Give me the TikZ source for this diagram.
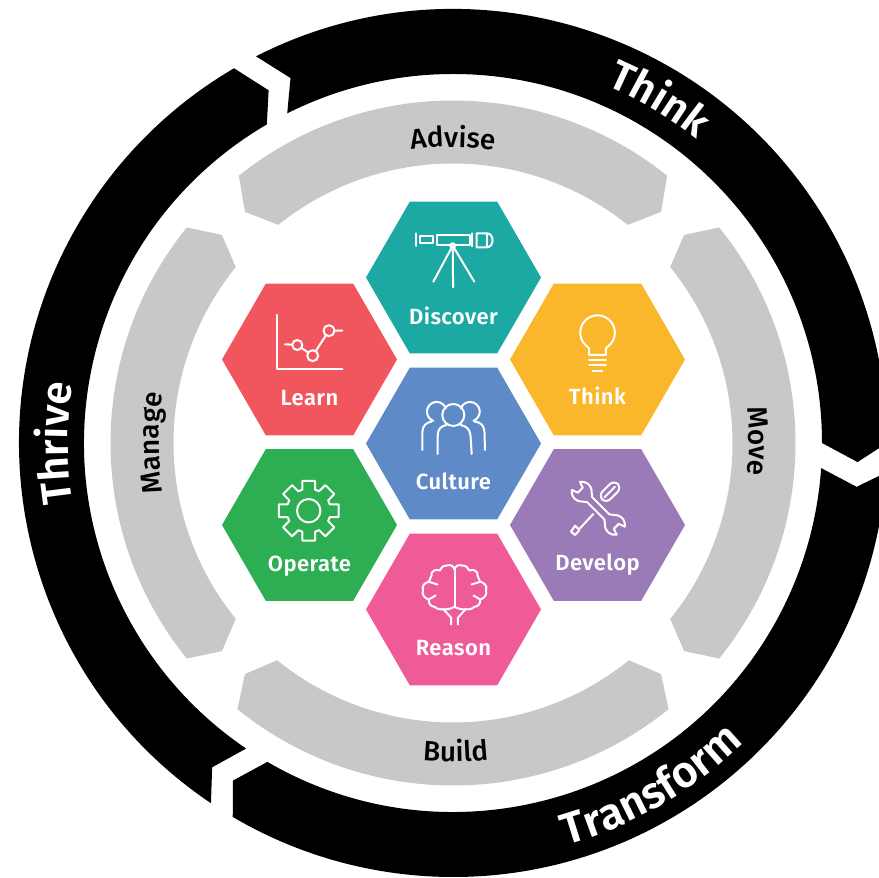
\documentclass[tikz,border=0pt]{standalone}
\usepackage{fontspec}
\setmainfont{Fira Sans}
\newfontfamily\medfont{Fira Sans Medium}
\newfontfamily\semifont{Fira Sans SemiBold}
\newfontfamily\medspaced[LetterSpace=2]{Fira Sans SemiBold}
\usetikzlibrary{shapes.geometric,decorations.text}
\definecolor{cteal}{HTML}{1DA9A3}
\definecolor{cred}{HTML}{F1565F}
\definecolor{cyel}{HTML}{FBB72B}
\definecolor{cblue}{HTML}{5E8BC8}
\definecolor{cpurp}{HTML}{9A7BB8}
\definecolor{cgreen}{HTML}{2DAE53}
\definecolor{cpink}{HTML}{EF5B97}
\definecolor{cgray}{HTML}{C8C8C6}
\newcommand{\ringfont}{\fontsize{31.5}{32}\selectfont\semifont}
\newcommand{\ringfontb}{\fontsize{33}{33}\selectfont\semifont}
\newcommand{\grayfont}{\fontsize{21}{21}\selectfont\medfont}
\tikzset{
  hexa/.style={regular polygon,regular polygon sides=6,shape border rotate=0,minimum size=131.25pt,inner sep=0pt,outer sep=0pt,draw=none},
  hexlabel/.style={anchor=base,text=white,font=\fontsize{16.5}{16.5}\selectfont\medspaced,inner sep=0pt},
  icon/.style={draw=white,line width=1.5pt,line cap=round,line join=round},
  ringpiece/.style={fill=black},
  graypiece/.style={fill=cgray},
  ringtext/.style={decorate,decoration={text along path,text align=center,text={|\ringfont\color{white}|#1}}},
  ringtextb/.style={decorate,decoration={text along path,text align=center,text={|\ringfontb\color{white}|#1}}},
  graytext/.style={decorate,decoration={text along path,text align=center,text={|\grayfont\color{black}|#1}}}
}
\begin{document}
\begin{tikzpicture}[x=0.75pt,y=0.75pt]
\useasboundingbox (0,0) rectangle (879,878);
\clip (0,0) rectangle (879,878);
\begin{scope}[shift={(453,435)}]
  % black ring
  \fill[ringpiece] (117:434) arc[start angle=117,end angle=0,radius=434] -- (-2.7:405) -- (0:369)
     arc[start angle=0,end angle=116.7,radius=369] -- (114:399.5) -- cycle;
  \fill[ringpiece] (-3.9:434) arc[start angle=-3.9,end angle=-120.5,radius=434] -- (236.9:403) -- (-120.2:369)
     arc[start angle=-120.2,end angle=-3.9,radius=369] -- (-6.2:406) -- cycle;
  \fill[ringpiece] (236.1:434) arc[start angle=236.1,end angle=120.3,radius=434] -- (117.6:398) -- (120.3:369)
     arc[start angle=120.3,end angle=235.9,radius=369] -- (233.4:404) -- cycle;
  % gray ring
  \fill[graypiece] (128.7:342.5) arc[start angle=128.7,end angle=51.3,radius=342.5] -- (48:311) -- (51.3:279.5)
     arc[start angle=51.3,end angle=128.7,radius=279.5] -- (132:311) -- cycle;
  \fill[graypiece] (39:342.5) arc[start angle=39,end angle=-39,radius=342.5] -- (-42:311) -- (-39:279.5)
     arc[start angle=-39,end angle=39,radius=279.5] -- (42:311) -- cycle;
  \fill[graypiece] (219:342.5) arc[start angle=219,end angle=141,radius=342.5] -- (138:311) -- (141:279.5)
     arc[start angle=141,end angle=219,radius=279.5] -- (222:311) -- cycle;
  \fill[graypiece] (309:342.5) arc[start angle=309,end angle=231,radius=342.5] -- (228:311) -- (231:279.5)
     arc[start angle=231,end angle=309,radius=279.5] -- (312:311) -- cycle;
  % ring texts
  \path[ringtext=Think] (84:389) arc[start angle=84,end angle=34,radius=389];
  \path[ringtext=Thrive] (200:385) arc[start angle=200,end angle=160,radius=385];
  \path[ringtextb=Transform] (-90.4:418) arc[start angle=-90.4,end angle=-29.6,radius=418];
  \path[graytext=Advise] (110:296) arc[start angle=110,end angle=70,radius=296];
  \path[graytext=Move] (20.3:296) arc[start angle=20.3,end angle=-19.7,radius=296];
  \path[graytext=Manage] (200:294) arc[start angle=200,end angle=160,radius=294];
  \path[graytext=Build] (250.5:319) arc[start angle=250.5,end angle=290.5,radius=319];
\end{scope}
% hexagons
\node[hexa,fill=cteal]  (discover) at (453.5,600.5) {};
\node[hexa,fill=cred]   (learn)    at (309.5,518.5) {};
\node[hexa,fill=cyel]   (think)    at (597.5,518.5) {};
\node[hexa,fill=cblue]  (culture)  at (453.5,434.5) {};
\node[hexa,fill=cgreen] (operate)  at (309.5,353) {};
\node[hexa,fill=cpurp]  (develop)  at (597.5,353) {};
\node[hexa,fill=cpink]  (reason)   at (453.5,268.5) {};
% Discover
\begin{scope}[shift={(453.5,600.5)},yscale=-1]
  \node[hexlabel] (discoverlabel) at (0,47) {Discover};
  \draw[icon] (-37.8,-44.2) -- (-37.8,-31.5);
  \draw[icon] (-33.5,-41.5) rectangle (-20.2,-34.2);
  \draw[icon] (-16.2,-42.5) rectangle (16.5,-32.5);
  \draw[icon] (18.8,-44) -- (18.8,-31);
  \draw[icon] (23.2,-44.2) -- (33.2,-44.2) .. controls (41,-44.2) and (41,-30.2) .. (33.2,-30.2) -- (23.2,-30.2) -- cycle;
  \draw[icon] (33.2,-44) -- (33.2,-30.5);
  \draw[icon] (-0.8,-31.8) -- (-20.2,4.2);
  \draw[icon] (-0.8,-31.8) -- (-0.4,9.8);
  \draw[icon] (-0.8,-31.8) -- (20.8,4.2);
  \fill[white] (-0.8,-31.8) circle[radius=3.4];
\end{scope}
% Learn
\begin{scope}[shift={(309.5,518.5)},yscale=-1]
  \node[hexlabel] (learnlabel) at (0,46) {Learn};
  \draw[icon] (-32.8,-44.5) -- (-32.8,9.8) -- (32.8,9.8);
  \draw[icon] (-24.5,-15.2) -- (-12.2,-14.5) -- (3.2,-3.8) -- (19.5,-28.8) -- (32.8,-28.8);
  \draw[icon,fill=cred] (-12.2,-14.5) circle[radius=5];
  \draw[icon,fill=cred] (3.2,-3.8) circle[radius=5.5];
  \draw[icon,fill=cred] (19.5,-28.8) circle[radius=5.5];
\end{scope}
% Think
\begin{scope}[shift={(597.5,518.5)},yscale=-1]
  \node[hexlabel] (thinklabel) at (0,45.5) {Think};
  \draw[icon] (-8.3,-4.5) -- (-8.3,-11) -- (-13,-15.5) arc[start angle=139,end angle=401,radius=17.3] -- (8.3,-11) -- (8.3,-4.5) -- cycle;
  \draw[icon] (-8.3,0.5) -- (8.3,0.5);
  \draw[icon] (-8.3,5.5) -- (8.3,5.5);
  \draw[icon] (-4.8,11.2) -- (4.8,11.2);
\end{scope}
% Culture
\begin{scope}[shift={(453.5,434.5)},yscale=-1]
  \node[hexlabel] (culturelabel) at (0,46) {Culture};
  \draw[icon] (-0.2,-28.5) circle[radius=11];
  \draw[icon] (-15.8,10.5) -- (-15.8,-8) .. controls (-15.8,-15) and (-12,-17.5) .. (-7,-18.5);
  \draw[icon] (18.2,10.5) -- (17,-8) .. controls (16.5,-15) and (12,-17.5) .. (7,-18.5);
  \draw[icon] (-31.2,6.5) -- (-31.2,-11) .. controls (-31.2,-18) and (-27,-21) .. (-21.8,-22)
      (-20.15,-22.6) arc[start angle=110,end angle=340,radius=9.8];
  \draw[icon] (31.5,6.5) -- (31,-11) .. controls (30.5,-18) and (28,-21) .. (21,-22)
      (7.3,-35.15) arc[start angle=200,end angle=430,radius=9.8];
\end{scope}
% Operate
\begin{scope}[shift={(309.5,353)},yscale=-1]
  \node[hexlabel] (operatelabel) at (0,47) {Operate};
  \begin{scope}[shift={(-0.8,-14.3)}]
    \draw[icon] (0,0) circle[radius=11.7];
    \draw[icon] (-17:22) \foreach \a in {0,45,...,315}{ -- (\a-17:22) -- (\a-12:30.5) -- (\a+12:30.5) -- (\a+17:22)} -- cycle;
  \end{scope}
\end{scope}
% Develop
\begin{scope}[shift={(597.5,353)},yscale=-1]
  \node[hexlabel] (developlabel) at (0,46) {Develop};
  \begin{scope}[shift={(0.8,-16.7)},rotate=45]
    \draw[icon] (-12,-3.5) -- (-15.8,-6.4) arc[start angle=320,end angle=215,radius=10] -- (-25.5,-3.5) -- (-25.5,3.5) -- (-31.7,5.7)
       arc[start angle=145,end angle=40,radius=10] -- (-12,3.5) -- (12,3.5) -- (15.8,6.4)
       arc[start angle=140,end angle=35,radius=10] -- (25.5,3.5) -- (25.5,-3.5) -- (31.7,-5.7)
       arc[start angle=-35,end angle=-140,radius=10] -- (12,-3.5) -- cycle;
  \end{scope}
  \begin{scope}[shift={(12.5,-33.3)},rotate=-45]
    \draw[icon,rounded corners=4.5pt] (-11,-5.5) rectangle (11,5.5);
    \draw[icon] (-8,0) -- (7,0);
  \end{scope}
  \draw[icon] (-4.2,-11) -- (-17.5,3.3);
  \draw[icon] (-26.5,6.7) -- (-22.5,0.7) -- (-18,5) -- (-22.5,10) -- cycle;
\end{scope}
% Reason
\begin{scope}[shift={(453.5,268.5)},yscale=-1]
  \node[hexlabel] (reasonlabel) at (0,46.5) {Reason};
  \begin{scope}[shift={(1,0)}]
    \draw[icon] (0,-40) -- (0,-2.7);
    \foreach \s in {1,-1}{
      \begin{scope}[xscale=\s]
        \draw[icon] (0,-40) .. controls (1,-44) and (4,-45) .. (7.7,-44) .. controls (11,-44) and (14,-42) .. (14.7,-39)
           .. controls (19,-41) and (24,-38) .. (23,-34) .. controls (23.5,-32) and (25,-30) .. (25.7,-27.7)
           .. controls (30,-27) and (33,-23) .. (31.5,-20) .. controls (33,-15) and (30,-11) .. (25.7,-10)
           .. controls (26,-6) and (24,-3) .. (20,-2.7) .. controls (17,0) and (14,0) .. (11,0)
           .. controls (7,0) and (3,-1) .. (0,-2.7);
        \draw[icon] (25.7,-27.7) -- (17,-25);
        \draw[icon] (25.7,-10) -- (19,-14);
        \draw[icon] (11.5,-0.7) -- (3.3,8.3) -- (3.3,15);
      \end{scope}
    }
  \end{scope}
\end{scope}
\end{tikzpicture}
\end{document}
